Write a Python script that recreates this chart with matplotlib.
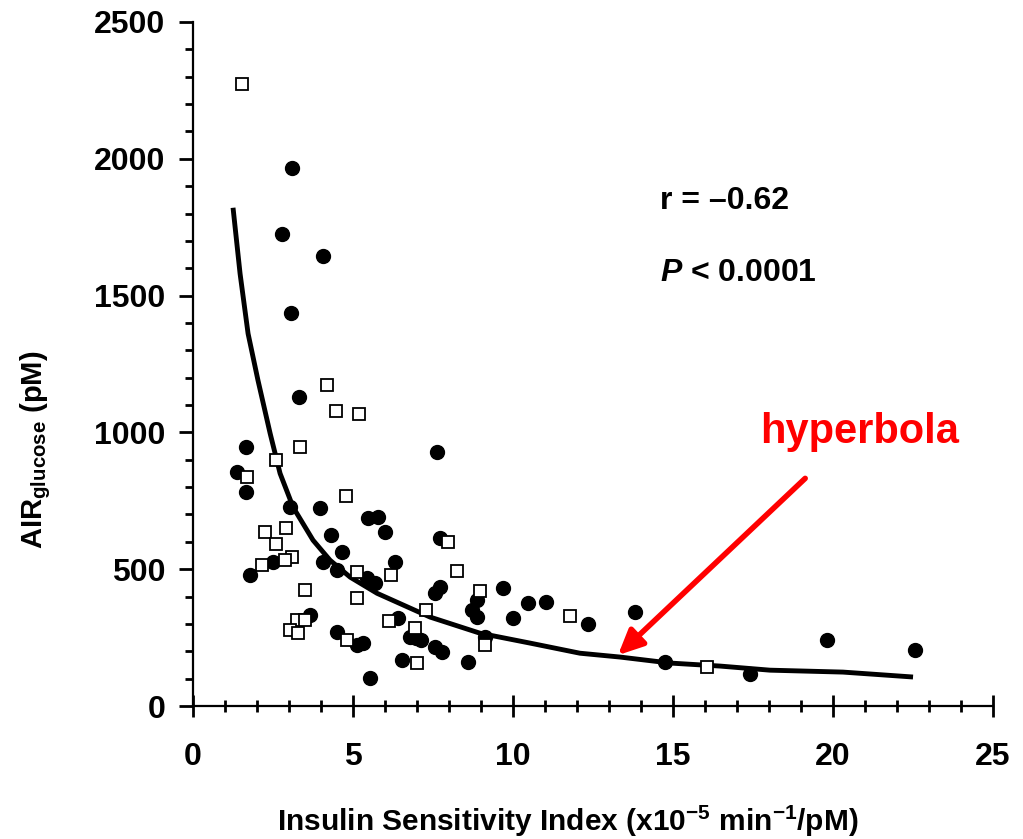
### insulin sensitivity vs acute insulin response
# scatter of AIRglucose against SI with a fitted hyperbola

import matplotlib
matplotlib.use('Agg')
import matplotlib.pyplot as plt
import numpy as np

# general font setup (arial-like, bold)
plt.rcParams['font.family'] = ['Liberation Sans', 'DejaVu Sans']
plt.rcParams['font.weight'] = 'bold'
plt.rcParams['axes.labelweight'] = 'bold'
plt.rcParams['mathtext.fontset'] = 'custom'
plt.rcParams['mathtext.rm'] = 'Liberation Sans:bold'
plt.rcParams['mathtext.it'] = 'Liberation Sans:italic:bold'
plt.rcParams['mathtext.default'] = 'rm'

# filled circles (si, air)
filled_x = [3.10, 2.78, 4.06, 3.06, 3.31, 1.66, 1.38, 1.66, 3.03, 3.97,
            5.47, 5.78, 6.00, 4.31, 4.66, 4.06, 2.50, 1.78, 4.50, 5.44,
            5.69, 3.66, 4.50, 5.13, 5.31, 5.53, 7.63, 7.72, 6.31, 7.72,
            7.56, 9.69, 8.88, 8.72, 8.88, 10.47, 11.03, 10.00, 6.41, 6.78,
            6.97, 7.13, 7.56, 7.78, 9.13, 6.53, 8.59, 12.34, 13.81, 14.75,
            17.41, 19.81, 22.56]
filled_y = [1967, 1726, 1646, 1438, 1128, 945, 854, 781, 726, 723,
            686, 690, 635, 624, 562, 526, 526, 478, 496, 467,
            449, 332, 270, 223, 230, 102, 927, 613, 526, 434,
            412, 431, 387, 350, 325, 376, 380, 321, 321, 252,
            248, 241, 215, 197, 252, 168, 161, 299, 343, 161,
            117, 241, 204]

# open squares (si, air)
open_x = [1.53, 4.19, 4.47, 5.19, 3.34, 1.69, 2.60, 4.78, 2.25, 2.90,
          2.60, 3.09, 2.88, 2.16, 5.13, 5.13, 3.50, 3.25, 3.03, 3.28,
          3.50, 4.81, 6.13, 6.20, 7.97, 8.25, 8.97, 11.78, 7.28, 6.94,
          9.13, 7.00, 16.06]
open_y = [2274, 1172, 1080, 1069, 945, 836, 898, 766, 635, 650,
          591, 544, 533, 515, 489, 394, 423, 314, 277, 266,
          314, 241, 310, 480, 599, 493, 420, 328, 350, 285,
          223, 157, 142]

# hyperbola
curve_x = [1.25, 1.47, 1.72, 2.03, 2.41, 2.72, 3.13, 3.75, 4.28, 4.91,
           5.75, 7.41, 8.97, 10.53, 12.09, 13.34, 14.91, 16.47, 18.03,
           20.31, 22.50]
curve_y = [1821, 1580, 1361, 1190, 996, 850, 726, 606, 533, 471,
           412, 325, 266, 230, 193, 179, 157, 146, 131,
           124, 106]

# texts
stat_r = 'r = \u20130.62'
stat_p = r'$\mathit{P}$ < 0.0001'
note = 'hyperbola'

# build figure
fig = plt.figure(figsize = (10.23, 8.39), dpi = 100)
ax = fig.add_axes([0.1887, 0.1585, 0.782, 0.8153])

ax.plot(curve_x, curve_y, color = 'black', lw = 3.5, solid_capstyle = 'butt',
        zorder = 2)
ax.plot(filled_x, filled_y, 'o', ms = 10, color = 'black', mec = 'black',
        zorder = 3)
ax.plot(open_x, open_y, 's', ms = 8.5, mfc = 'white', mec = 'black',
        mew = 1.3, zorder = 4)

# axes limits and ticks
ax.set_xlim(0, 25)
ax.set_ylim(0, 2500)
ax.set_xticks(np.arange(0, 26, 5))
ax.set_xticks(np.arange(0, 26, 1), minor = True)
ax.set_yticks(np.arange(0, 2501, 500))
ax.set_yticks(np.arange(0, 2501, 100), minor = True)

for side in ['top', 'right']:
    ax.spines[side].set_visible(False)
for side in ['left', 'bottom']:
    ax.spines[side].set_linewidth(1.6)

ax.tick_params(axis = 'y', which = 'major', direction = 'out', length = 10,
               width = 2, labelsize = 23, pad = 10)
ax.tick_params(axis = 'y', which = 'minor', direction = 'out', length = 6,
               width = 2)
ax.tick_params(axis = 'x', which = 'major', direction = 'inout', length = 16,
               width = 2, labelsize = 23, pad = 18)
ax.tick_params(axis = 'x', which = 'minor', direction = 'inout', length = 8,
               width = 2)

ax.set_xlabel('Insulin Sensitivity Index (x10$^{\u22125}$ min$^{\u22121}$/pM)',
              fontsize = 21.5)
ax.xaxis.set_label_coords(0.468, -0.143)
ax.set_ylabel('AIR$_{glucose}$ (pM)', fontsize = 21)
ax.yaxis.set_label_coords(-0.175, 0.374)

# statistics
ax.text(14.6, 1847, stat_r, fontsize = 23, va = 'center', ha = 'left')
ax.text(14.6, 1584, stat_p, fontsize = 23, va = 'center', ha = 'left')

# red annotation
ax.text(20.84, 1000, note, fontsize = 30, color = 'red', ha = 'center',
        va = 'center', fontweight = 'bold')
ax.annotate('', xy = (13.28, 186), xytext = (19.13, 832),
            arrowprops = dict(arrowstyle = '-|>,head_length=1.5,head_width=0.7',
                              color = 'red', lw = 4, shrinkA = 0, shrinkB = 0))

fig.savefig('out.png', dpi = 100)
